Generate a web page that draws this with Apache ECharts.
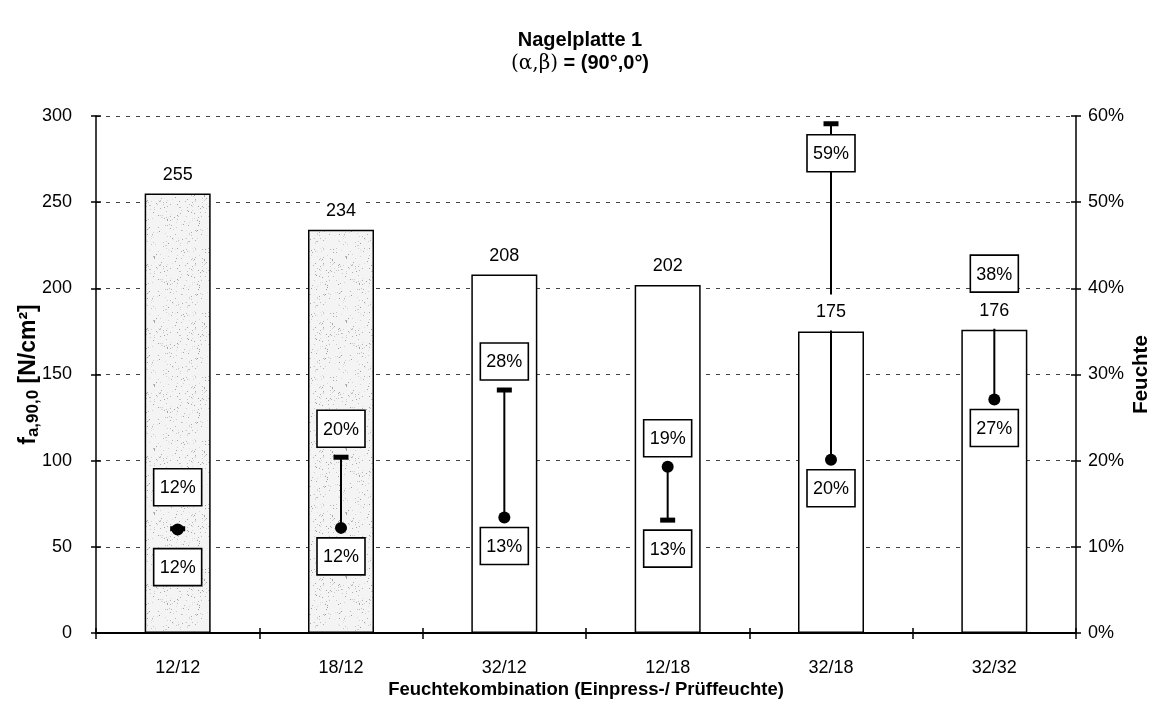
<!DOCTYPE html>
<html>
<head>
<meta charset="utf-8">
<script src="https://cdn.jsdelivr.net/npm/echarts@6/dist/echarts.min.js"></script>
<style>
html,body{margin:0;padding:0;background:#fff;}
#c{width:1160px;height:708px;}
</style>
</head>
<body>
<div id="c"></div>
<script>
// ---- data ----
const categories = ['12/12', '18/12', '32/12', '12/18', '32/18', '32/32'];
const strength = [255, 234, 208, 202, 175, 176];           // f_a,90,0 [N/cm²]
const moistureStart = [12.0, 12.2, 13.4, 19.3, 20.1, 27.1]; // Einpressfeuchte [%] (dot)
const moistureEnd = [12.1, 20.4, 28.2, 13.1, 59.1, 38.4];   // Prüffeuchte [%] (dash)
const leftTicks = [0, 300, 50];
const rightTicks = [0, 60, 10];
const texturedBars = [true, true, false, false, false, false];

// ---- speckle texture (deterministic) ----
function makeTexture() {
  const c = document.createElement('canvas');
  c.width = 64; c.height = 64;
  const g = c.getContext('2d');
  g.fillStyle = '#f4f4f4';
  g.fillRect(0, 0, 64, 64);
  let s = 7;
  function nx() { s = (s * 1103515245 + 12345) & 0x7fffffff; return s / 0x7fffffff; }
  for (let i = 0; i < 240; i++) {
    const x = Math.floor(nx() * 64), y = Math.floor(nx() * 64);
    const v = 155 + Math.floor(nx() * 80);
    g.fillStyle = 'rgb(' + v + ',' + v + ',' + v + ')';
    g.fillRect(x, y, 1, 1);
  }
  return c;
}
const tex = makeTexture();

const FONT = 'Liberation Sans, Arial, sans-serif';
const chart = echarts.init(document.getElementById('c'), null, {renderer: 'canvas'});

const barData = strength.map((v, i) => ({
  value: v,
  itemStyle: { color: texturedBars[i] ? { image: tex, repeat: 'repeat' } : '#ffffff' }
}));
const moistData = categories.map((c, i) => [i, moistureStart[i], moistureEnd[i]]);

function renderMoist(params, api) {
  const i = api.value(0);
  const p1 = api.coord([i, api.value(1)]);
  const p2 = api.coord([i, api.value(2)]);
  return {
    type: 'group',
    children: [
      { type: 'line', shape: { x1: p1[0], y1: p1[1], x2: p2[0], y2: p2[1] },
        style: { stroke: '#000', lineWidth: 2 } },
      { type: 'rect', shape: { x: p2[0] - 7.5, y: p2[1] - 2.5, width: 15, height: 5 },
        style: { fill: '#000' } },
      { type: 'circle', shape: { cx: p1[0], cy: p1[1], r: 6 },
        style: { fill: '#000' } }
    ]
  };
}

function renderBoxes(params, api) {
  const i = api.value(0);
  const s = api.value(1), e = api.value(2);
  const ps = api.coord([i, s]);
  const pe = api.coord([i, e]);
  const top = params.coordSys.y;
  const H = 37, W = 48, gap = 10;
  const same = Math.abs(s - e) < 0.5;
  const items = [];
  const hiIsEnd = e >= s;
  const hi = hiIsEnd ? {v: e, p: pe} : {v: s, p: ps};
  const lo = hiIsEnd ? {v: s, p: ps} : {v: e, p: pe};
  let hiY;
  if (same) hiY = hi.p[1] - 23 - H / 2;
  else if (hi.p[1] - gap - H < top) hiY = hi.p[1] + gap + 1 + H / 2;
  else hiY = hi.p[1] - gap - H / 2;
  const loY = lo.p[1] + (same ? 19 : gap) + H / 2;
  items.push({x: hi.p[0], y: hiY, t: Math.round(hi.v) + '%'});
  items.push({x: lo.p[0], y: loY, t: Math.round(lo.v) + '%'});
  return {
    type: 'group',
    children: items.map(it => ({
      type: 'group',
      children: [
        { type: 'rect', shape: { x: it.x - W / 2, y: it.y - H / 2, width: W, height: H },
          style: { fill: '#fff', stroke: '#000', lineWidth: 1.6 } },
        { type: 'text', style: { x: it.x, y: it.y + 1, text: it.t, align: 'center', verticalAlign: 'middle',
          font: '18px ' + FONT, fill: '#000' } }
      ]
    }))
  };
}

const option = {
  backgroundColor: '#fff',
  animation: false,
  textStyle: { fontFamily: FONT, color: '#000' },
  title: {
    left: 'center', top: 24,
    text: '{b|Nagelplatte 1}\n{n|(α,β)}{b| = (90°,0°)}',
    textStyle: {
      rich: {
        b: { fontSize: 20, fontWeight: 'bold', fontFamily: FONT, color: '#000', lineHeight: 23 },
        n: { fontSize: 20, fontWeight: 'normal', fontFamily: 'DejaVu Serif, serif', color: '#000', lineHeight: 23 }
      }
    }
  },
  grid: { left: 96, right: 84, top: 116, bottom: 75, containLabel: false },
  xAxis: [
    {
      type: 'category', data: categories, position: 'bottom',
      axisLine: { lineStyle: { color: '#000', width: 2 } },
      axisTick: { show: true, length: 6, lineStyle: { color: '#000', width: 1.5 } },
      axisLabel: { fontSize: 18, color: '#000', margin: 26, fontFamily: FONT },
      name: 'Feuchtekombination (Einpress-/ Prüffeuchte)',
      nameLocation: 'middle', nameGap: 47, nameMoveOverlap: false,
      nameTextStyle: { fontSize: 18.5, fontWeight: 'bold', color: '#000', fontFamily: FONT }
    },
    {
      type: 'category', data: categories, position: 'bottom',
      axisLine: { show: false },
      axisTick: { show: true, inside: true, length: 5, lineStyle: { color: '#000', width: 1.5 } },
      axisLabel: { show: false }
    }
  ],
  yAxis: [
    {
      type: 'value', min: leftTicks[0], max: leftTicks[1], interval: leftTicks[2], position: 'left',
      axisLine: { show: true, lineStyle: { color: '#000', width: 1.5 } },
      axisTick: { show: true, length: 5, lineStyle: { color: '#000', width: 1.5 } },
      axisLabel: { fontSize: 18, color: '#000', margin: 24, fontFamily: FONT },
      splitLine: { show: true, lineStyle: { color: '#444', width: 1, type: [4, 6] } },
      name: '{b|f}{s|a,90,0}{b| [N/cm²]}',
      nameLocation: 'middle', nameGap: 54, nameRotate: 90, nameMoveOverlap: false,
      nameTextStyle: {
        rich: {
          b: { fontSize: 23, fontWeight: 'bold', fontFamily: FONT, color: '#000', lineHeight: 26 },
          s: { fontSize: 17, fontWeight: 'bold', fontFamily: FONT, color: '#000', lineHeight: 15, verticalAlign: 'bottom' }
        }
      }
    },
    {
      type: 'value', min: rightTicks[0], max: rightTicks[1], interval: rightTicks[2], position: 'right',
      axisLine: { show: true, lineStyle: { color: '#000', width: 1.5 } },
      axisTick: { show: true, length: 5, lineStyle: { color: '#000', width: 1.5 } },
      axisLabel: { fontSize: 18, color: '#000', margin: 12, formatter: '{value}%', fontFamily: FONT },
      splitLine: { show: false },
      name: 'Feuchte', nameLocation: 'middle', nameGap: 55, nameRotate: 90, nameMoveOverlap: false,
      nameTextStyle: { fontSize: 20.5, fontWeight: 'bold', color: '#000', fontFamily: FONT }
    },
    {
      type: 'value', min: leftTicks[0], max: leftTicks[1], interval: leftTicks[2], position: 'left',
      axisLine: { show: false },
      axisTick: { show: true, inside: true, length: 5, lineStyle: { color: '#000', width: 1.5 } },
      axisLabel: { show: false }, splitLine: { show: false }
    },
    {
      type: 'value', min: rightTicks[0], max: rightTicks[1], interval: rightTicks[2], position: 'right',
      axisLine: { show: false },
      axisTick: { show: true, inside: true, length: 5, lineStyle: { color: '#000', width: 1.5 } },
      axisLabel: { show: false }, splitLine: { show: false }
    }
  ],
  series: [
    {
      type: 'bar', data: barData, barWidth: 66, z: 2,
      itemStyle: { borderColor: '#000', borderWidth: 1.5 }
    },
    {
      type: 'custom', yAxisIndex: 1, data: moistData, z: 3,
      renderItem: renderMoist
    },
    {
      type: 'bar', data: strength, barWidth: 66, barGap: '-100%', z: 4,
      itemStyle: { color: 'rgba(0,0,0,0)' },
      label: {
        show: true, position: 'top', distance: 1,
        fontSize: 18, color: '#000', fontFamily: FONT,
        backgroundColor: '#fff', padding: [9, 6, 9, 6]
      }
    },
    {
      type: 'custom', yAxisIndex: 1, data: moistData, z: 5,
      renderItem: renderBoxes
    }
  ]
};
chart.setOption(option);
</script>
</body>
</html>
